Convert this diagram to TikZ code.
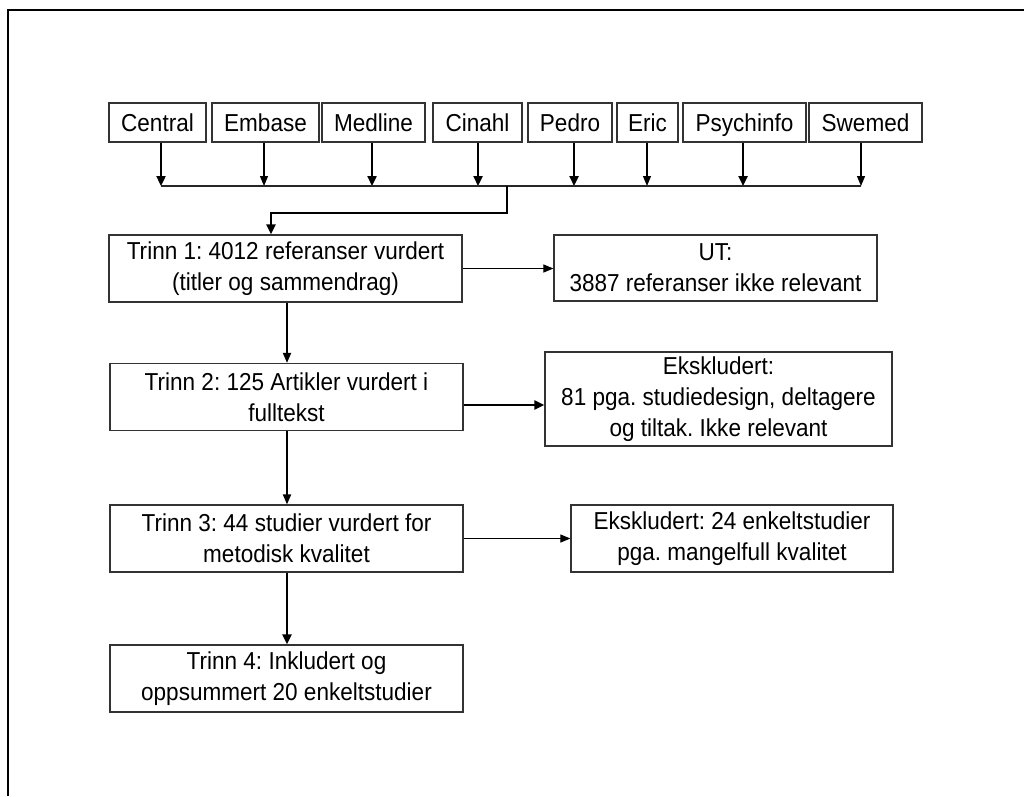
\documentclass[tikz,border=0pt]{standalone}
\usepackage{fontspec}
\setmainfont[FakeStretch=0.92]{Liberation Sans}
\usetikzlibrary{arrows.meta}
\frenchspacing
\begin{document}
\begin{tikzpicture}[x=1pt,y=-1pt,
  box/.style={draw=black!80, line width=1.2pt, inner sep=0pt, align=center,
    font=\fontsize{24.5}{31}\selectfont},
  db/.style={box, minimum height=39pt, text height=20pt, text depth=2pt},
  trinn/.style={box, minimum width=353pt, minimum height=67pt},
  thinarrow/.style={line width=1.1pt, -{Triangle[length=10pt,width=8pt]}},
  thickarrow/.style={line width=2.3pt, -{Triangle[length=10pt,width=9pt]}},
  medarrow/.style={line width=1.8pt, -{Triangle[length=10pt,width=8pt]}},
  bus/.style={line width=1.2pt, draw=black!85}]
\useasboundingbox (0,0) rectangle (1024,796);
% outer frame
\draw[line width=2pt] (8,796) -- (8,10) -- (1024,10);
% database boxes
\node[db, minimum width=97pt]  (central) at (157.5,122.5) {Central};
\node[db, minimum width=107pt] (embase)  at (265.5,122.5) {Embase};
\node[db, minimum width=103pt] (medline) at (373.5,122.5) {Medline};
\node[db, minimum width=89pt]  (cinahl)  at (477.5,122.5) {Cinahl};
\node[db, minimum width=84pt]  (pedro)   at (570,122.5) {Pedro};
\node[db, minimum width=61pt]  (eric)    at (647.5,122.5) {Eric};
\node[db, minimum width=123pt] (psych)   at (744.5,122.5) {Psychinfo};
\node[db, minimum width=113pt] (swemed)  at (865.5,122.5) {Swemed};
% bus coordinates
\coordinate (b1) at (161,186);
\coordinate (b2) at (264,186);
\coordinate (b3) at (372,186);
\coordinate (b4) at (478,186);
\coordinate (b5) at (574,186);
\coordinate (b6) at (647,186);
\coordinate (b7) at (743,186);
\coordinate (b8) at (861,186);
\coordinate (j)  at (507,186);
\coordinate (k1) at (507,213);
\coordinate (k2) at (271,213);
% main boxes
\node[trinn] (t1) at (285.5,268.5) {Trinn 1: 4012 referanser vurdert\\(titler og sammendrag)};
\node[box, minimum width=323pt, minimum height=66pt] (ut) at (715.5,268) {UT:\\3887 referanser ikke relevant};
\node[trinn] (t2) at (286.5,397) {Trinn 2: 125 Artikler vurdert i\\fulltekst};
\node[box, minimum width=347pt, minimum height=94pt] (e1) at (718.5,399) {Ekskludert:\\81 pga. studiedesign, deltagere\\og tiltak. Ikke relevant};
\node[trinn] (t3) at (286.5,538.5) {Trinn 3: 44 studier vurdert for\\metodisk kvalitet};
\node[box, minimum width=322pt, minimum height=67pt] (e2) at (732,538.5) {Ekskludert: 24 enkeltstudier\\pga. mangelfull kvalitet};
\node[trinn] (t4) at (286.5,678.5) {Trinn 4: Inkludert og\\oppsummert 20 enkeltstudier};
% arrows from databases
\draw[thickarrow] (b1 |- central.south) -- (b1);
\draw[thinarrow]  (b2 |- embase.south) -- (b2);
\draw[thickarrow] (b3 |- medline.south) -- (b3);
\draw[thickarrow] (b4 |- cinahl.south) -- (b4);
\draw[thickarrow] (b5 |- pedro.south) -- (b5);
\draw[thinarrow]  (b6 |- eric.south) -- (b6);
\draw[thickarrow] (b7 |- psych.south) -- (b7);
\draw[thinarrow]  (b8 |- swemed.south) -- (b8);
\draw[bus] (b1) -- (b8);
\draw[thickarrow] (j) -- (k1) -- (k2) -- (k2 |- t1.north);
% flow arrows
\draw[thinarrow] (t1.east) -- (ut.west |- t1.east);
\draw[medarrow] (t1.south -| 287,0) -- (t2.north -| 287,0);
\draw[thickarrow] (t2.east |- 0,405) -- (e1.west |- 0,405);
\draw[medarrow] (t2.south -| 287,0) -- (t3.north -| 287,0);
\draw[thinarrow] (t3.east) -- (e2.west |- t3.east);
\draw[thickarrow] (t3.south -| 287,0) -- (t4.north -| 287,0);
\end{tikzpicture}
\end{document}
